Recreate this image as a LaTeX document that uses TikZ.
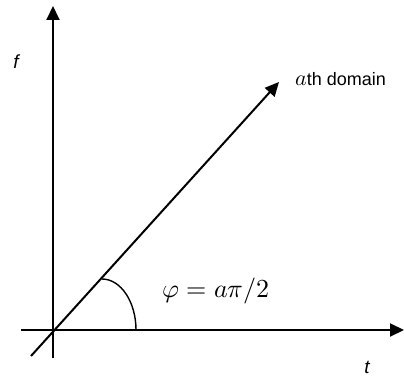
\documentclass[tikz,border=0pt]{standalone}
\usepackage{fontspec}
\usepackage{unicode-math}
\setmainfont{Liberation Sans}
\setmathfont{Latin Modern Math}
\usetikzlibrary{arrows.meta}
\begin{document}
\begin{tikzpicture}[x=1pt,y=-1pt,
  axis/.style={line width=2pt,-{Triangle[length=14pt,width=13pt]}},
  lbl/.style={inner sep=0pt,font=\fontsize{19}{22}\selectfont\itshape},
  mathlbl/.style={inner sep=0pt,font=\fontsize{26}{30}\selectfont}]
\useasboundingbox (0,0) rectangle (404,377);
\coordinate (o) at (53,330);
\coordinate (vbot) at (53,358);
\coordinate (vtop) at (53,6);
\coordinate (hleft) at (21,330);
\coordinate (hright) at (404,330);
\coordinate (dbot) at (31,356);
\coordinate (dtop) at (279,82);
\coordinate (arcA) at (102,279);
\draw[axis] (vbot) -- (vtop);
\draw[axis] (hleft) -- (hright);
\draw[axis] (dbot) -- (dtop);
\draw[line width=1.4pt] (arcA) arc[start angle=90,end angle=0,x radius=34,y radius=-51];
\node[lbl] (f) at (16,62) {f};
\node[lbl] (t) at (367,367) {t};
\node[inner sep=0pt,anchor=base west,font=\fontsize{18}{21}\selectfont] (dom) at (295,86) {{\fontsize{22}{24}\selectfont$a$}th domain};
\node[mathlbl] (phi) at (216,291) {$\varphi = a\pi/2$};
\end{tikzpicture}
\end{document}
